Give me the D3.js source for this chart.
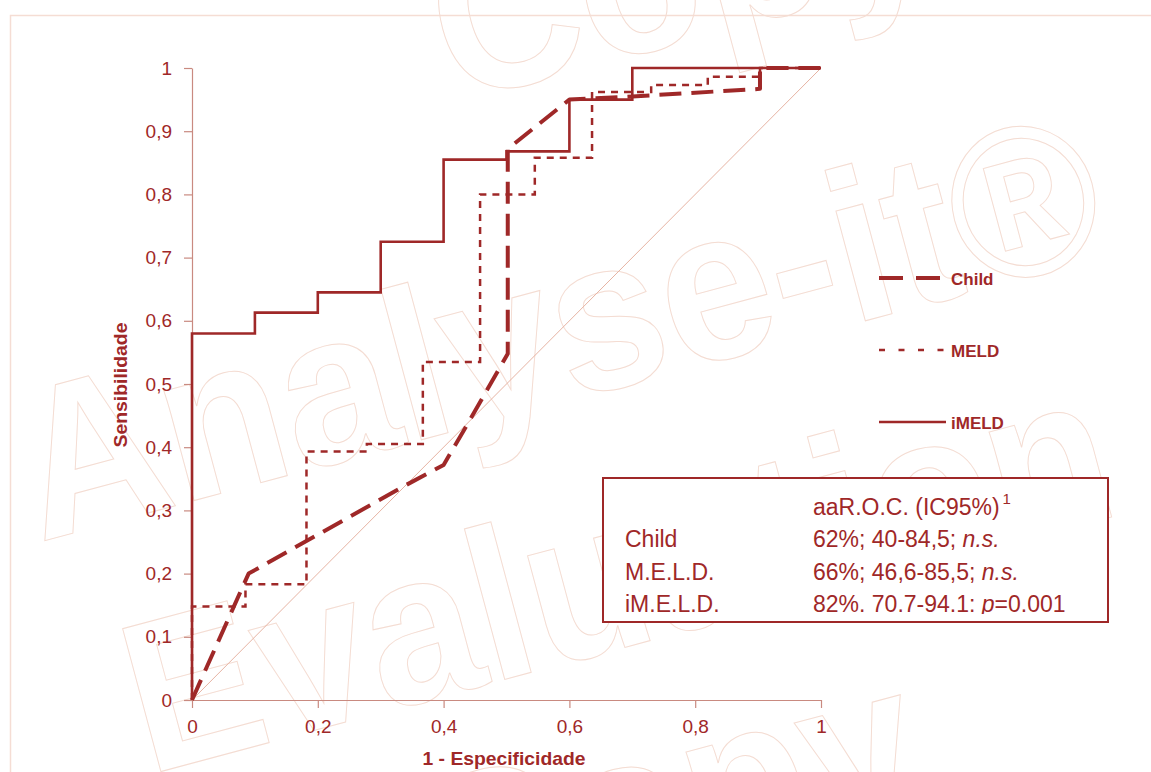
<!DOCTYPE html>
<html>
<head>
<meta charset="utf-8">
<script src="https://cdn.jsdelivr.net/npm/d3@7"></script>
<style>
  body { margin: 0; background: #fff; }
  svg { display: block; font-family: "Liberation Sans", Arial, sans-serif; }
</style>
</head>
<body>
<div id="vis"></div>
<script>
const FRAME_WIDTH = 1151;
const FRAME_HEIGHT = 772;

const RED = "#9f2828";
const AXIS_COLOR = "#c98a80";
const DIAG_COLOR = "#e6b3a3";
const MARK_COLOR = "#f4dcd2";

// data
const fprChild = [0, 0.09, 0.34, 0.40, 0.44, 0.502, 0.502, 0.6, 0.7, 0.903, 0.903, 1];
const tprChild = [0, 0.20, 0.34, 0.372, 0.44, 0.548, 0.872, 0.95, 0.955, 0.967, 1, 1];

const fprMELD = [0, 0.085, 0.182, 0.278, 0.367, 0.458, 0.545, 0.636, 0.73, 0.82, 0.903, 1];
const tprMELD = [0, 0.148, 0.183, 0.393, 0.405, 0.535, 0.80, 0.858, 0.962, 0.973, 0.986, 1];

const fprIMELD = [0, 0.1, 0.2, 0.3, 0.4, 0.5, 0.6, 0.7, 1];
const tprIMELD = [0, 0.58, 0.613, 0.645, 0.725, 0.855, 0.868, 0.95, 1];

const refLine = [0, 1];

const xTicks = [0, 0.2, 0.4, 0.6, 0.8, 1];
const yTicks = [0, 0.1, 0.2, 0.3, 0.4, 0.5, 0.6, 0.7, 0.8, 0.9, 1];

const legendNames = ["Child", "MELD", "iMELD"];

const tableHeader = "aaR.O.C. (IC95%)";
const tableRows = ["Child", "M.E.L.D.", "iM.E.L.D."];
const tableMain = ["62%; 40-84,5; ", "66%; 46,6-85,5; ", "82%. 70.7-94.1: "];
const tableItalic = ["n.s.", "n.s.", "p"];
const tableTail = ["", "", "=0.001"];

const watermark = ["Copy", "Analyse-it\u00AE", "Evaluation", "Copy"];

const X_SCALE = d3.scaleLinear().domain([0, 1]).range([192, 821]);
const Y_SCALE = d3.scaleLinear().domain([0, 1]).range([700, 68]);

const fmt = (d) => String(+d.toFixed(1)).replace(".", ",");

const svg = d3.select("#vis")
    .append("svg")
    .attr("width", FRAME_WIDTH)
    .attr("height", FRAME_HEIGHT);

// outer frame, only top and left visible
svg.append("path")
    .attr("d", "M10.5," + FRAME_HEIGHT + " V15.5 H" + FRAME_WIDTH)
    .attr("fill", "none")
    .attr("stroke", "#f5ddd4")
    .attr("stroke-width", 1.5);

// evaluation watermark
const markPos = [[454, 103, 506], [40, 542, 1112], [148, 775, 1010], [442, 935, 506]];
svg.append("g")
    .selectAll("text")
    .data(watermark)
    .enter()
    .append("text")
    .attr("transform", (d, i) => "translate(" + markPos[i][0] + "," + markPos[i][1] + ") rotate(-15)")
    .attr("textLength", (d, i) => markPos[i][2])
    .attr("lengthAdjust", "spacingAndGlyphs")
    .attr("font-size", 215)
    .attr("font-weight", "bold")
    .attr("fill", "none")
    .attr("stroke", MARK_COLOR)
    .attr("stroke-width", 1)
    .text((d) => d);

// axes
const yAxis = svg.append("g")
    .attr("transform", "translate(" + X_SCALE(0) + ",0)")
    .call(d3.axisLeft(Y_SCALE).tickValues(yTicks).tickSize(8).tickSizeOuter(0)
        .tickPadding(12).tickFormat(fmt));

const xAxis = svg.append("g")
    .attr("transform", "translate(0," + Y_SCALE(0) + ")")
    .call(d3.axisBottom(X_SCALE).tickValues(xTicks).tickSize(8).tickSizeOuter(0)
        .tickPadding(12).tickFormat(fmt));

[xAxis, yAxis].forEach((g) => {
    g.attr("font-family", null).attr("font-size", 19);
    g.select(".domain").attr("stroke", AXIS_COLOR).attr("stroke-width", 1.2);
    g.selectAll(".tick line").attr("stroke", AXIS_COLOR).attr("stroke-width", 1.2);
    g.selectAll(".tick text").attr("fill", RED);
});

// axis titles
svg.append("text")
    .attr("transform", "translate(127,385) rotate(-90)")
    .attr("text-anchor", "middle")
    .attr("font-size", 19)
    .attr("font-weight", "bold")
    .attr("fill", RED)
    .attr("textLength", 125)
    .attr("lengthAdjust", "spacingAndGlyphs")
    .text("Sensibilidade");

svg.append("text")
    .attr("x", 504)
    .attr("y", 765)
    .attr("text-anchor", "middle")
    .attr("font-size", 19)
    .attr("font-weight", "bold")
    .attr("fill", RED)
    .attr("textLength", 163)
    .attr("lengthAdjust", "spacingAndGlyphs")
    .text("1 - Especificidade");

// reference diagonal
svg.append("line")
    .attr("x1", X_SCALE(refLine[0])).attr("y1", Y_SCALE(refLine[0]))
    .attr("x2", X_SCALE(refLine[1])).attr("y2", Y_SCALE(refLine[1]))
    .attr("stroke", DIAG_COLOR)
    .attr("stroke-width", 1);

// curves
const stepLine = d3.line()
    .x((d) => X_SCALE(d[0]))
    .y((d) => Y_SCALE(d[1]))
    .curve(d3.curveStepBefore);

const polyLine = d3.line()
    .x((d) => X_SCALE(d[0]))
    .y((d) => Y_SCALE(d[1]));

svg.append("path")
    .attr("d", stepLine(d3.zip(fprMELD, tprMELD)))
    .attr("fill", "none")
    .attr("stroke", RED)
    .attr("stroke-width", 2.5)
    .attr("stroke-dasharray", "7,6");

svg.append("path")
    .attr("d", stepLine(d3.zip(fprIMELD, tprIMELD)))
    .attr("fill", "none")
    .attr("stroke", RED)
    .attr("stroke-width", 2.6);

svg.append("path")
    .attr("d", polyLine(d3.zip(fprChild, tprChild)))
    .attr("fill", "none")
    .attr("stroke", RED)
    .attr("stroke-width", 4)
    .attr("stroke-linejoin", "round")
    .attr("stroke-dasharray", "22,10");

// legend
const legendY = [278, 350, 422];
const legendStroke = [4, 2.5, 2.5];
const legendDash = ["24,13", "6,13.5", null];
const legendEnd = [940, 946, 946];

const legend = svg.append("g");
legendNames.forEach((name, i) => {
    legend.append("line")
        .attr("x1", 879).attr("x2", legendEnd[i])
        .attr("y1", legendY[i]).attr("y2", legendY[i])
        .attr("stroke", RED)
        .attr("stroke-width", legendStroke[i])
        .attr("stroke-dasharray", legendDash[i]);
    legend.append("text")
        .attr("x", 951)
        .attr("y", legendY[i] + 1)
        .attr("dy", "0.35em")
        .attr("font-size", 17)
        .attr("font-weight", "bold")
        .attr("fill", RED)
        .text(name);
});

// AUC table
svg.append("rect")
    .attr("x", 603).attr("y", 478)
    .attr("width", 505).attr("height", 144)
    .attr("fill", "#fff")
    .attr("stroke", RED)
    .attr("stroke-width", 2);

svg.append("clipPath").attr("id", "tclip")
    .append("rect").attr("x", 603).attr("y", 478).attr("width", 505).attr("height", 136);

const table = svg.append("g")
    .attr("clip-path", "url(#tclip)")
    .attr("font-size", 23)
    .attr("fill", RED);

const head = table.append("text").attr("x", 813).attr("y", 515).text(tableHeader);
head.append("tspan").attr("font-size", 15).attr("dx", 3).attr("dy", -11).text("1");

tableRows.forEach((row, i) => {
    const y = 547 + i * 32.5;
    table.append("text").attr("x", 625).attr("y", y).text(row);
    const t = table.append("text").attr("x", 813).attr("y", y);
    t.append("tspan").text(tableMain[i]);
    t.append("tspan").attr("font-style", "italic").text(tableItalic[i]);
    t.append("tspan").text(tableTail[i]);
});
</script>
</body>
</html>
